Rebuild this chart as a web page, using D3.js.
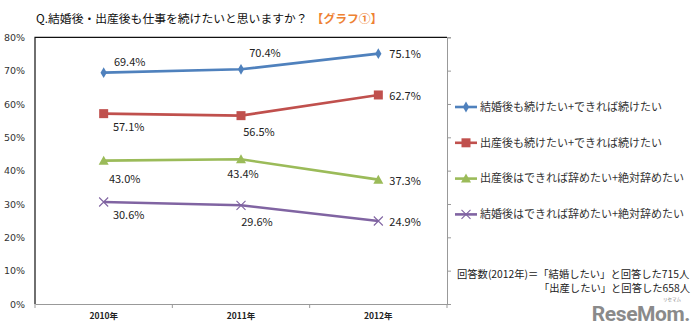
<!DOCTYPE html>
<html>
<head>
<meta charset="utf-8">
<script src="https://cdn.jsdelivr.net/npm/d3@7"></script>
<style>
  body { margin: 0; background: #fff; }
  text { font-family: "Noto Sans CJK JP", "Noto Sans", sans-serif; }
</style>
</head>
<body>
<script>
// 年ごとの回答割合 (%)
const years = ['2010年', '2011年', '2012年'];
const seriesNames = [
    '結婚後も続けたい+できれば続けたい',
    '出産後も続けたい+できれば続けたい',
    '出産後はできれば辞めたい+絶対辞めたい',
    '結婚後はできれば辞めたい+絶対辞めたい'
];
const marriedContinue = [69.4, 70.4, 75.1];
const birthContinue = [57.1, 56.5, 62.7];
const birthQuit = [43.0, 43.4, 37.3];
const marriedQuit = [30.6, 29.6, 24.9];
const yTicks = [0, 10, 20, 30, 40, 50, 60, 70, 80];

const width = 700;
const height = 328;
const plot = { left: 35, right: 447, top: 37.3, bottom: 304 };

const svg = d3.select("body").append("svg")
    .attr("width", width)
    .attr("height", height);

const x = d3.scaleBand()
    .domain(years)
    .range([plot.left, plot.right]);

const y = d3.scaleLinear()
    .domain([0, 80])
    .range([plot.bottom, plot.top]);

// タイトル
const title = svg.append("text")
    .attr("x", 36)
    .attr("y", 23)
    .attr("font-size", 11.8)
    .attr("fill", "#111");
title.append("tspan").text("Q.結婚後・出産後も仕事を続けたいと思いますか？");
title.append("tspan")
    .attr("dx", 4)
    .attr("fill", "#EE8233")
    .attr("font-weight", "bold")
    .text("【グラフ①】");

// 縦軸ラベル
svg.append("g")
    .attr("transform", `translate(${plot.left},0)`)
    .call(d3.axisLeft(y).tickValues(yTicks).tickSize(0).tickPadding(10).tickFormat(d => d + "%"))
    .call(g => g.select(".domain").remove())
    .selectAll("text")
    .attr("font-size", 9.5)
    .attr("fill", "#333")
    .style("font-family", "DejaVu Sans, sans-serif");

// 右側の補助軸
svg.append("g")
    .attr("transform", `translate(${plot.right},0)`)
    .call(d3.axisRight(y).tickValues(yTicks).tickSize(4).tickFormat(""))
    .call(g => g.selectAll("line, path").attr("stroke", "#999"));

// 横軸
svg.append("g")
    .attr("transform", `translate(0,${plot.bottom})`)
    .call(d3.axisBottom(x).tickSize(0).tickPadding(9))
    .call(g => g.select(".domain").attr("stroke", "#999"))
    .selectAll("text")
    .attr("font-size", 8.5)
    .attr("font-weight", "bold")
    .attr("fill", "#222");

// カテゴリ境界の目盛り
svg.append("g")
    .selectAll("line")
    .data(years.map(d => x(d)).concat([plot.right]))
    .enter().append("line")
    .attr("x1", d => d).attr("x2", d => d)
    .attr("y1", plot.bottom).attr("y2", plot.bottom + 4)
    .attr("stroke", "#999");

// 上辺と左辺の枠線
svg.append("path")
    .attr("d", `M${plot.left},${plot.bottom}V${plot.top}H${plot.right}`)
    .attr("fill", "none")
    .attr("stroke", "#111")
    .attr("stroke-width", 1.2);

const series = [
    { name: seriesNames[0], values: marriedContinue, color: "#4F81BD", marker: "diamond",
      labels: [["mid", 26, -10], ["mid", 24, -16], ["start", 11, 1]] },
    { name: seriesNames[1], values: birthContinue, color: "#C0504D", marker: "square",
      labels: [["mid", 25, 14], ["mid", 18, 17], ["start", 11, 1]] },
    { name: seriesNames[2], values: birthQuit, color: "#9BBB59", marker: "triangle",
      labels: [["mid", 21, 19], ["mid", 2, 15], ["start", 11, 1]] },
    { name: seriesNames[3], values: marriedQuit, color: "#8064A2", marker: "x",
      labels: [["mid", 25, 13], ["mid", 16, 17], ["start", 11, 1]] }
];

const cx = d => x(d) + x.bandwidth() / 2;

function drawMarker(g, type, color) {
    if (type === "diamond") {
        g.append("path").attr("d", d3.symbol(d3.symbolDiamond, 34)()).attr("fill", color);
    } else if (type === "square") {
        g.append("rect").attr("x", -4.5).attr("y", -4.5).attr("width", 9).attr("height", 9)
            .attr("fill", color);
    } else if (type === "triangle") {
        g.append("path").attr("d", "M0,-5L5,4L-5,4Z").attr("fill", color);
    } else {
        g.append("path").attr("d", "M-4.5,-4.5L4.5,4.5M-4.5,4.5L4.5,-4.5")
            .attr("stroke", color).attr("stroke-width", 1.1);
    }
}

const line = d3.line()
    .x((d, i) => cx(years[i]))
    .y(d => y(d));

series.forEach(s => {
    svg.append("path")
        .datum(s.values)
        .attr("d", line)
        .attr("fill", "none")
        .attr("stroke", s.color)
        .attr("stroke-width", 2.6);

    s.values.forEach((v, i) => {
        const g = svg.append("g")
            .attr("transform", `translate(${cx(years[i])},${y(v)})`);
        drawMarker(g, s.marker, s.color);

        const [anchor, dx, dy] = s.labels[i];
        svg.append("text")
            .attr("x", cx(years[i]) + dx)
            .attr("y", y(v) + dy)
            .attr("dy", "0.35em")
            .attr("text-anchor", anchor === "mid" ? "middle" : "start")
            .attr("font-size", 11)
            .attr("fill", "#222")
            .text(v.toFixed(1) + "%");
    });
});

// 凡例
const legend = svg.append("g")
    .attr("transform", "translate(455,107)");

series.forEach((s, i) => {
    const item = legend.append("g")
        .attr("transform", `translate(0,${i * 35.8})`);
    item.append("line")
        .attr("x1", 0).attr("x2", 22)
        .attr("stroke", s.color)
        .attr("stroke-width", 2.6);
    const m = item.append("g").attr("transform", "translate(11,0)");
    drawMarker(m, s.marker, s.color);
    item.append("text")
        .attr("x", 25)
        .attr("dy", "0.35em")
        .attr("font-size", 11)
        .attr("fill", "#333")
        .text(s.name);
});

// 回答数の注記
svg.append("text")
    .attr("x", 457)
    .attr("y", 278)
    .attr("font-size", 10.3)
    .attr("fill", "#222")
    .text("回答数(2012年)＝「結婚したい」と回答した715人");
svg.append("text")
    .attr("x", 690)
    .attr("y", 292)
    .attr("text-anchor", "end")
    .attr("font-size", 10.3)
    .attr("fill", "#222")
    .text("「出産したい」と回答した658人");

// ロゴ
svg.append("text")
    .attr("x", 681)
    .attr("y", 300.5)
    .attr("text-anchor", "end")
    .attr("font-size", 4.5)
    .attr("fill", "#888")
    .text("リセマム");
svg.append("text")
    .attr("x", 690)
    .attr("y", 321)
    .attr("text-anchor", "end")
    .attr("font-size", 21)
    .attr("font-weight", "bold")
    .attr("letter-spacing", -0.4)
    .attr("fill", "#8a8a8a")
    .style("font-family", "Roboto, sans-serif")
    .text("ReseMom.");
</script>
</body>
</html>
